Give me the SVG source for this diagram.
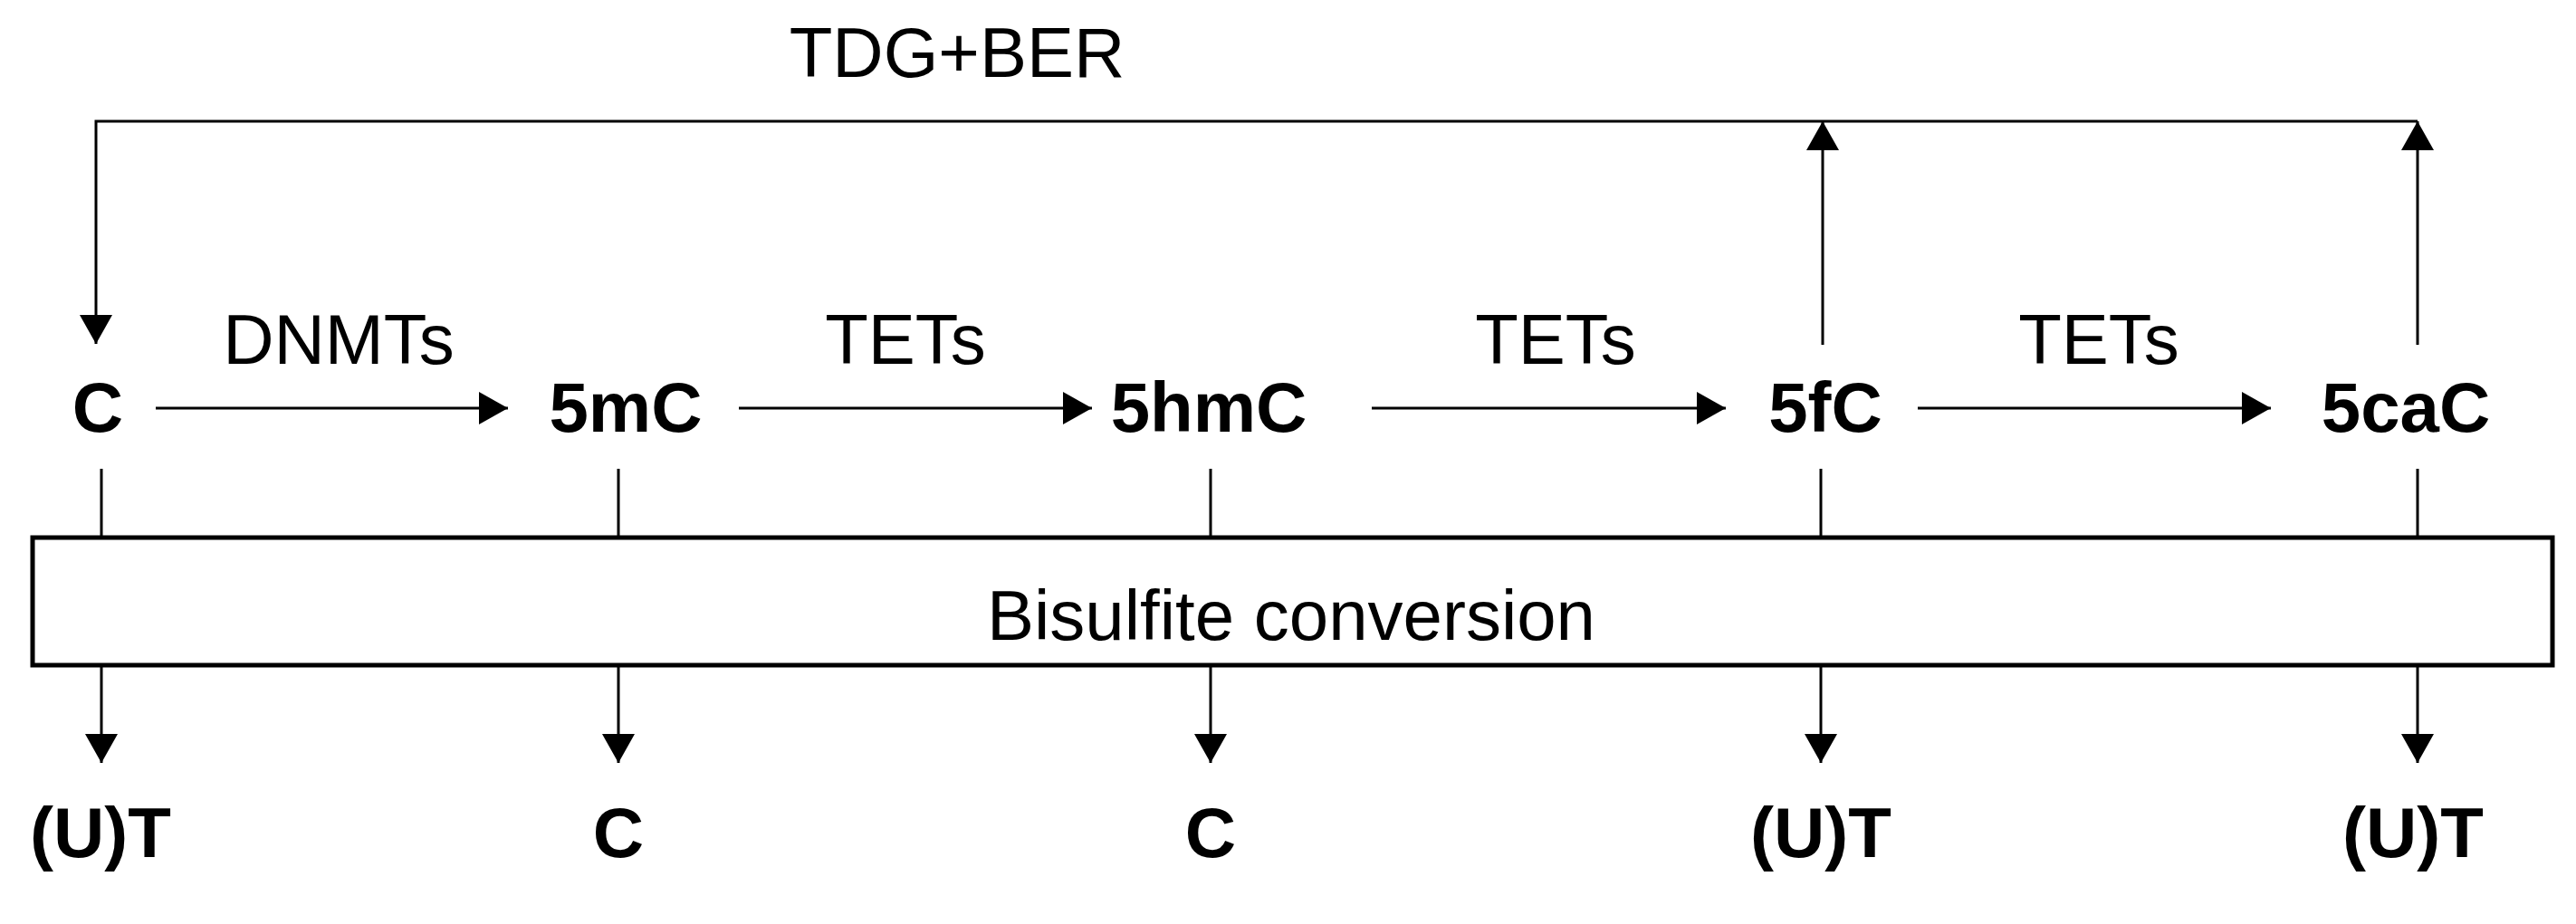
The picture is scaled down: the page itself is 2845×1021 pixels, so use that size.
<svg xmlns="http://www.w3.org/2000/svg" width="2845" height="1021" viewBox="0 0 2845 1021">
<defs>
<marker id="ah" markerWidth="34" markerHeight="36" refX="32" refY="18" orient="auto" markerUnits="userSpaceOnUse">
<path d="M0,0 L32,18 L0,36 Z" fill="#000"/>
</marker>
<style>
.ln{stroke:#000;stroke-width:3;fill:none}
.lb{font-family:"Liberation Sans",Arial,sans-serif;font-size:78px;fill:#000;text-anchor:middle}
.b{font-weight:bold}
</style>
</defs>
<rect width="2845" height="1021" fill="#fff"/>
<g id="connectors">
<path class="ln" d="M2670,134 H106 V380" marker-end="url(#ah)"/>
<path class="ln" d="M2013,381 V134" marker-end="url(#ah)"/>
<path class="ln" d="M2670,381 V134" marker-end="url(#ah)"/>
<path class="ln" d="M172,451 H561" marker-end="url(#ah)"/>
<path class="ln" d="M816,451 H1206" marker-end="url(#ah)"/>
<path class="ln" d="M1515,451 H1906" marker-end="url(#ah)"/>
<path class="ln" d="M2118,451 H2508" marker-end="url(#ah)"/>
<path class="ln" d="M112,518 V594 M683,518 V594 M1337,518 V594 M2011,518 V594 M2670,518 V594"/>
<path class="ln" d="M112,735 V843" marker-end="url(#ah)"/>
<path class="ln" d="M683,735 V843" marker-end="url(#ah)"/>
<path class="ln" d="M1337,735 V843" marker-end="url(#ah)"/>
<path class="ln" d="M2011,735 V843" marker-end="url(#ah)"/>
<path class="ln" d="M2670,735 V843" marker-end="url(#ah)"/>
</g>
<text class="lb" x="1057" y="85">TDG+BER</text>
<text class="lb" x="374" y="402">DNMTs</text>
<text class="lb" x="1000" y="402">TETs</text>
<text class="lb" x="1718" y="402">TETs</text>
<text class="lb" x="2318" y="402">TETs</text>
<g id="n-C"><text class="lb b" x="108" y="477">C</text></g>
<g id="n-5mC"><text class="lb b" x="691" y="477">5mC</text></g>
<g id="n-5hmC"><text class="lb b" x="1335" y="477">5hmC</text></g>
<g id="n-5fC"><text class="lb b" x="2016" y="477">5fC</text></g>
<g id="n-5caC"><text class="lb b" x="2657" y="477">5caC</text></g>
<g id="n-bisulfite"><rect x="36" y="594" width="2783" height="141" fill="#fff" stroke="#000" stroke-width="5"/>
<text class="lb" x="1426" y="707">Bisulfite conversion</text></g>
<g id="r1"><text class="lb b" x="111" y="947">(U)T</text></g>
<g id="r2"><text class="lb b" x="683" y="947">C</text></g>
<g id="r3"><text class="lb b" x="1337" y="947">C</text></g>
<g id="r4"><text class="lb b" x="2011" y="947">(U)T</text></g>
<g id="r5"><text class="lb b" x="2665" y="947">(U)T</text></g>
</svg>
